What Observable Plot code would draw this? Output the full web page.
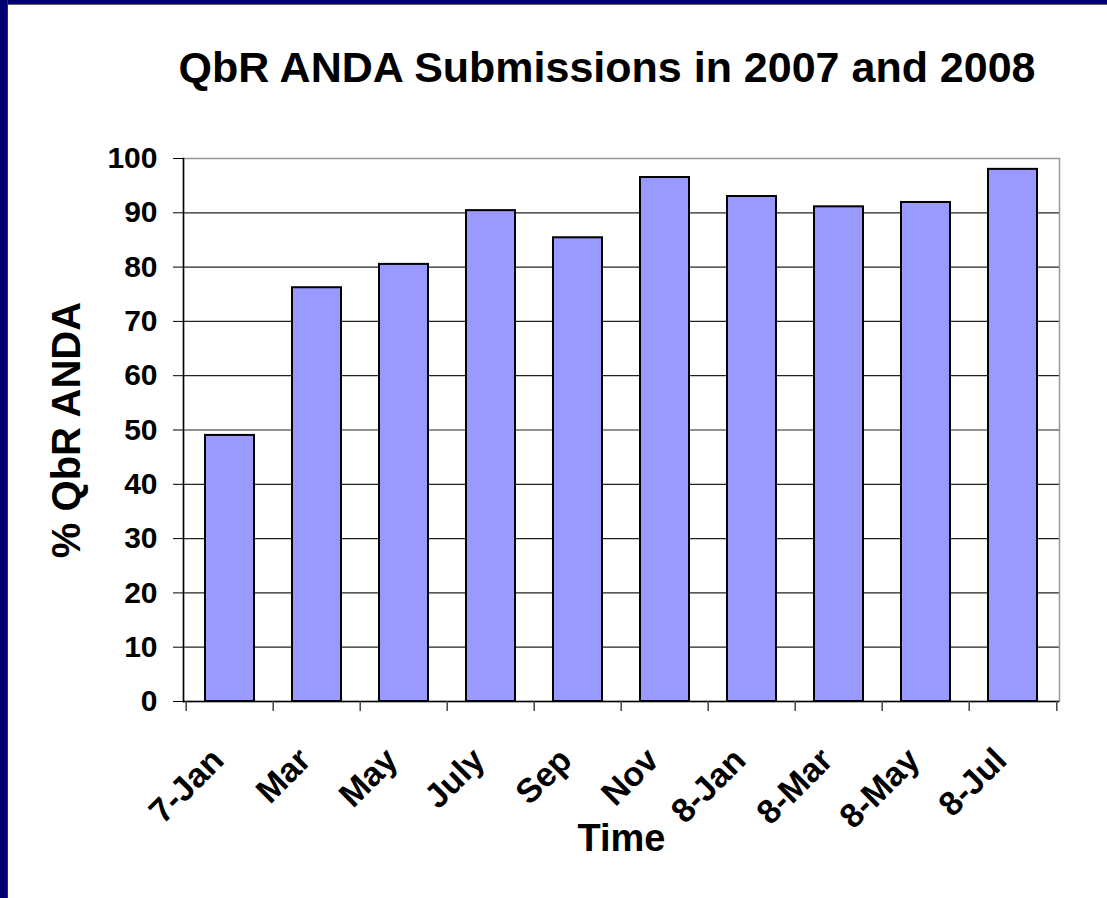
<!DOCTYPE html>
<html><head><meta charset="utf-8">
<script src="https://cdn.jsdelivr.net/npm/d3@7"></script>
<script src="https://cdn.jsdelivr.net/npm/@observablehq/plot@0.6"></script>
<style>
html,body{margin:0;padding:0;background:#fff;width:1107px;height:898px;overflow:hidden;font-family:"Liberation Sans",Arial,sans-serif}
#bl{position:absolute;left:0;top:0;width:7px;height:898px;background:#000070;border-right:1px solid #333}
#bt{position:absolute;left:0;top:0;width:1107px;height:4px;background:#000070;border-bottom:1px solid #666}
#title{position:absolute;top:46px;left:607px;transform:translateX(-50%);white-space:nowrap;font-weight:bold;font-size:43px;line-height:43px;color:#000}
#chart{position:absolute;left:0;top:0}
</style></head><body>
<div id="chart"></div><div id="bt"></div><div id="bl"></div>
<div id="title">QbR ANDA Submissions in 2007 and 2008</div>
<script>
const months = ["7-Jan","Mar","May","July","Sep","Nov","8-Jan","8-Mar","8-May","8-Jul"];
const percents = [49, 76.2, 80.5, 90.4, 85.4, 96.5, 93.0, 91.1, 91.9, 98.0];
const yTicks = [0,10,20,30,40,50,60,70,80,90,100];
const yLabel = "% QbR ANDA";
const xLabel = "Time";

const data = months.map((m,i)=>({month:m, pct:percents[i]}));
const W=1107, H=898, mL=183, mR=48, mT=158, mB=197;
const half = (W-mL-mR)/months.length/2;

const chart = Plot.plot({
  width:W, height:H, marginLeft:mL, marginRight:mR, marginTop:mT, marginBottom:mB,
  style:{fontFamily:"'Liberation Sans', Arial, sans-serif", background:"transparent", color:"#000", overflow:"visible"},
  x:{type:"band", domain:months, paddingInner:0.44, paddingOuter:0.22, axis:null},
  y:{domain:[0,100], axis:null},
  marks:[
    Plot.gridY(yTicks.filter(t=>t>0 && t<100), {stroke:"#222", strokeOpacity:1, strokeWidth:1.2}),
    Plot.frame({stroke:"#999", strokeWidth:1.5}),
    Plot.barY(data, {x:"month", y:"pct", fill:"#9999ff", stroke:"#000", strokeWidth:2}),
    Plot.ruleY([0], {stroke:"#000", strokeWidth:1.5}),
    Plot.frame({anchor:"left", stroke:"#000", strokeWidth:1.5}),
    Plot.axisY({ticks:yTicks, tickSize:10, tickPadding:16, fontSize:30, fontWeight:"bold", label:null}),
    Plot.ruleX(months, {x:d=>d, y1:0, y2:0, dx:-half, insetBottom:-10, stroke:"#444", strokeWidth:1.5}),
    Plot.ruleX([months[months.length-1]], {x:d=>d, y1:0, y2:0, dx:half, insetBottom:-10, stroke:"#444", strokeWidth:1.5}),
    Plot.text(months, {x:d=>d, frameAnchor:"bottom", dx:-12, dy:53, rotate:-45, textAnchor:"end", lineAnchor:"middle", fontSize:34, fontWeight:"bold", fill:"#000"}),
    Plot.text([yLabel], {frameAnchor:"left", dx:-116, rotate:-90, textAnchor:"middle", lineAnchor:"middle", fontSize:40, fontWeight:"bold", fill:"#000"}),
    Plot.text([xLabel], {frameAnchor:"bottom", dy:137, textAnchor:"middle", lineAnchor:"middle", fontSize:38, fontWeight:"bold", fill:"#000"})
  ]
});
document.getElementById("chart").append(chart);
</script>
</body></html>
